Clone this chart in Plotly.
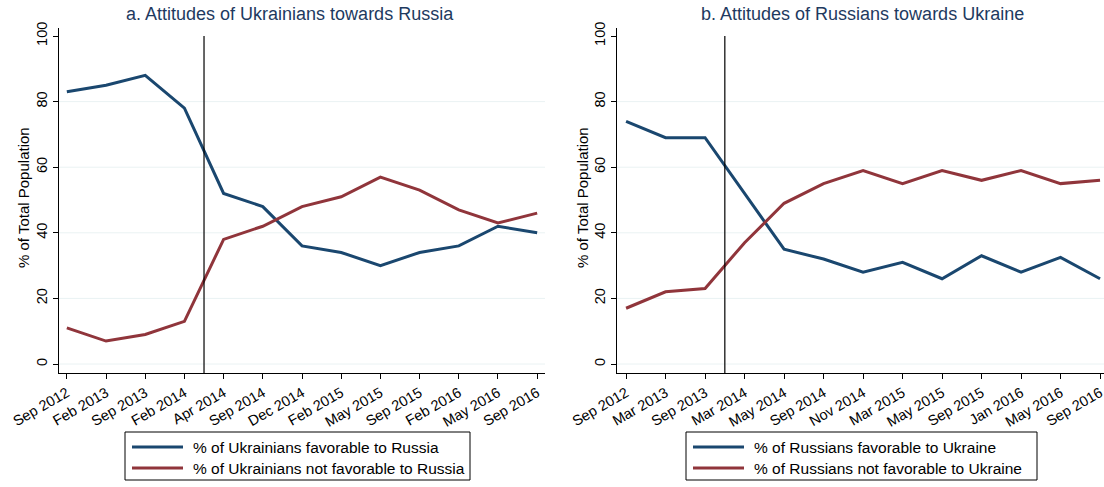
import plotly.graph_objects as go

# Survey waves (x categories) for each panel
ua_waves = ["Sep 2012", "Feb 2013", "Sep 2013", "Feb 2014", "Apr 2014", "Sep 2014",
            "Dec 2014", "Feb 2015", "May 2015", "Sep 2015", "Feb 2016", "May 2016", "Sep 2016"]
ru_waves = ["Sep 2012", "Mar 2013", "Sep 2013", "Mar 2014", "May 2014", "Sep 2014",
            "Nov 2014", "Mar 2015", "May 2015", "Sep 2015", "Jan 2016", "May 2016", "Sep 2016"]

# Panel a: Ukrainians' attitudes towards Russia (%)
ua_favorable = [83, 85, 88, 78, 52, 48, 36, 34, 30, 34, 36, 42, 40]
ua_not_favorable = [11, 7, 9, 13, 38, 42, 48, 51, 57, 53, 47, 43, 46]

# Panel b: Russians' attitudes towards Ukraine (%)
ru_favorable = [74, 69, 69, 52, 35, 32, 28, 31, 26, 33, 28, 32.5, 26]
ru_not_favorable = [17, 22, 23, 37, 49, 55, 59, 55, 59, 56, 59, 55, 56]

# Series labels
ua_labels = ["% of Ukrainians favorable to Russia", "% of Ukrainians not favorable to Russia"]
ru_labels = ["% of Russians favorable to Ukraine", "% of Russians not favorable to Ukraine"]

# Event marker (between waves) and y ticks
ua_event = 3.5
ru_event = 2.5
y_ticks = [0, 20, 40, 60, 80, 100]
grid_vals = [0, 20, 40, 60, 80]

NAVY = "#1a476f"
MAROON = "#90353b"
FONT = "Liberation Sans, Arial, sans-serif"
Y_RANGE = [-2.74, 102.44]

W, H = 1104, 487
def px_x(p):
    return p / W
def px_y(p):
    return (H - p) / H

fig = go.Figure()

for waves, fav, notfav, labels, xa, ya in [
    (ua_waves, ua_favorable, ua_not_favorable, ua_labels, "x", "y"),
    (ru_waves, ru_favorable, ru_not_favorable, ru_labels, "x2", "y2"),
]:
    fig.add_trace(go.Scatter(x=waves, y=fav, mode="lines", line=dict(color=NAVY, width=3),
                             name=labels[0], xaxis=xa, yaxis=ya, showlegend=False))
    fig.add_trace(go.Scatter(x=waves, y=notfav, mode="lines", line=dict(color=MAROON, width=3),
                             name=labels[1], xaxis=xa, yaxis=ya, showlegend=False))

xaxis_common = dict(
    type="category", range=[-0.2, 12.2], showline=True, linecolor="black", linewidth=1,
    ticks="outside", ticklen=5, tickcolor="black", tickangle=-30, showgrid=False,
    zeroline=False, automargin=False,
    tickfont=dict(family=FONT, size=14.5, color="black"),
)
yaxis_common = dict(
    range=Y_RANGE, tickvals=y_ticks, showline=True, linecolor="black", linewidth=1,
    ticks="outside", ticklen=5, tickcolor="black", tickangle=-90, showgrid=False,
    zeroline=False, automargin=False,
    tickfont=dict(family=FONT, size=14.5, color="black"),
)

fig.update_layout(
    width=W, height=H,
    margin=dict(l=0, r=0, t=0, b=0, autoexpand=False),
    paper_bgcolor="white", plot_bgcolor="white",
    font=dict(family=FONT, color="black"),
    showlegend=False,
    xaxis=dict(domain=[px_x(59), px_x(545)], anchor="y", **xaxis_common),
    yaxis=dict(domain=[px_y(373), px_y(28)], anchor="x", **yaxis_common),
    xaxis2=dict(domain=[px_x(617), 1.0], anchor="y2", **{**xaxis_common, "range": [-0.23, 12.1]}),
    yaxis2=dict(domain=[px_y(373), px_y(28)], anchor="x2", **yaxis_common),
)

# Panel titles
for text, cx in [("a. Attitudes of Ukrainians towards Russia", 290),
                 ("b. Attitudes of Russians towards Ukraine", 862)]:
    fig.add_annotation(text=text, x=px_x(cx), y=px_y(14), xref="paper", yref="paper",
                       xanchor="center", yanchor="middle", showarrow=False,
                       font=dict(family=FONT, size=18, color="#1e3a5f"))

# Y-axis titles
for cx in [23, 582]:
    fig.add_annotation(text="% of Total Population", x=px_x(cx), y=px_y(198),
                       xref="paper", yref="paper", xanchor="center", yanchor="middle",
                       textangle=-90, showarrow=False,
                       font=dict(family=FONT, size=15, color="black"))

# Light horizontal gridlines
for xa, ya in [("x", "y"), ("x2", "y2")]:
    for g in grid_vals:
        fig.add_shape(type="line", xref=f"{xa} domain", yref=ya, x0=0, x1=1, y0=g, y1=g,
                      line=dict(color="#eaf2f3", width=1), layer="below")

# Vertical event lines
fig.add_shape(type="line", xref="x", yref="y", x0=ua_event, x1=ua_event,
              y0=Y_RANGE[0], y1=100, line=dict(color="black", width=1.2))
fig.add_shape(type="line", xref="x2", yref="y2", x0=ru_event, x1=ru_event,
              y0=Y_RANGE[0], y1=100, line=dict(color="black", width=1.2))

# Framed legends below each panel
for labels, box_l, box_r in [(ua_labels, 125, 470), (ru_labels, 686, 1037)]:
    fig.add_shape(type="rect", xref="paper", yref="paper",
                  x0=px_x(box_l), x1=px_x(box_r), y0=px_y(480), y1=px_y(432),
                  line=dict(color="black", width=1), fillcolor="white")
    for label, color, row_y in [(labels[0], NAVY, 447), (labels[1], MAROON, 468)]:
        fig.add_shape(type="line", xref="paper", yref="paper",
                      x0=px_x(box_l + 7), x1=px_x(box_l + 58), y0=px_y(row_y), y1=px_y(row_y),
                      line=dict(color=color, width=3))
        fig.add_annotation(text=label, x=px_x(box_l + 66), y=px_y(row_y),
                           xref="paper", yref="paper", xanchor="left", yanchor="middle",
                           showarrow=False, font=dict(family=FONT, size=15.5, color="black"))

fig.write_html("out.html")
